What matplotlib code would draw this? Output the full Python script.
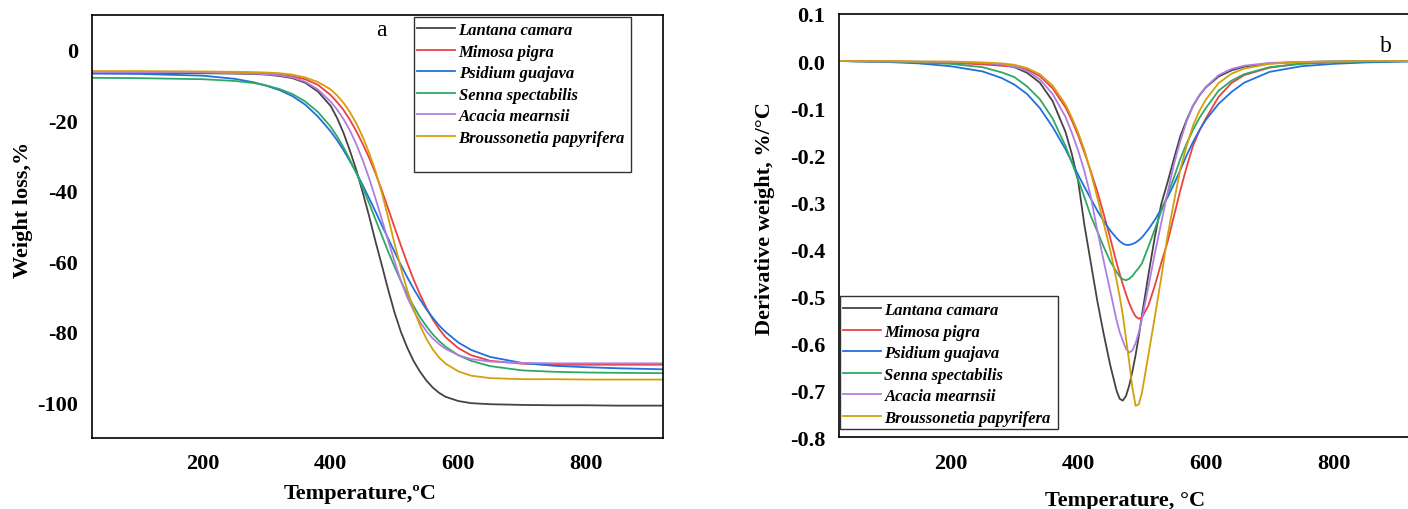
import matplotlib
matplotlib.use('Agg')
import matplotlib.pyplot as plt
from matplotlib.patches import Rectangle
from matplotlib.ticker import FormatStrFormatter

plt.rcParams['font.family'] = ['Liberation Serif', 'DejaVu Serif']
plt.rcParams['axes.unicode_minus'] = False

# species and line colours
species = ['Lantana camara', 'Mimosa pigra', 'Psidium guajava',
           'Senna spectabilis', 'Acacia mearnsii', 'Broussonetia papyrifera']
colors = ['#444444', '#EE4040', '#2070DD', '#2FA865', '#B07EE0', '#D4A00A']

# (a) TGA, weight loss in %
temp_tga = [26, 100, 200, 250, 280, 300, 320, 340, 360, 380, 400, 410, 420, 430, 440, 450, 460, 470,
            480, 490, 500, 510, 520, 530, 540, 550, 560, 570, 580, 600, 620, 650, 700, 750, 800, 850, 921]
lantana_tga = [-6.5, -6.5, -6.6, -6.7, -6.8, -7.0, -7.4, -8.0, -9.3, -11.8, -15.9, -19.3, -23.5, -28.5,
               -34.0, -40.3, -47.0, -54.2, -61.0, -68.0, -74.5, -80.0, -84.5, -88.3, -91.3, -93.8, -95.8,
               -97.3, -98.4, -99.6, -100.2, -100.5, -100.7, -100.8, -100.8, -100.9, -100.9]
mimosa_tga = [-6.2, -6.2, -6.3, -6.4, -6.5, -6.7, -7.0, -7.5, -8.3, -9.9, -12.8, -14.8, -17.0, -19.8,
              -23.0, -26.6, -30.5, -34.9, -39.8, -45.0, -50.3, -55.5, -60.5, -65.2, -69.4, -73.2, -76.5,
              -79.2, -81.5, -84.6, -86.6, -88.2, -89.0, -89.3, -89.3, -89.3, -89.3]
psidium_tga = [-6.7, -6.8, -7.3, -8.2, -9.2, -10.2, -11.4, -13.1, -15.5, -18.9, -23.1, -25.6, -28.4, -31.5,
               -34.8, -38.3, -42.0, -45.8, -49.7, -53.5, -57.3, -61.0, -64.5, -67.8, -70.8, -73.6, -76.0,
               -78.2, -80.0, -83.0, -85.1, -87.1, -88.8, -89.6, -90.0, -90.3, -90.6]
senna_tga = [-7.9, -8.0, -8.3, -8.8, -9.4, -10.1, -11.1, -12.5, -14.6, -17.6, -21.8, -24.5, -27.6, -31.1,
             -34.9, -39.0, -43.4, -48.0, -52.6, -57.2, -61.5, -65.6, -69.3, -72.7, -75.8, -78.4, -80.7,
             -82.6, -84.2, -86.6, -88.2, -89.7, -90.9, -91.3, -91.5, -91.6, -91.7]
acacia_tga = [-6.3, -6.3, -6.4, -6.6, -6.7, -6.9, -7.2, -7.8, -9.0, -11.2, -14.7, -16.9, -19.6, -22.8,
              -26.7, -31.2, -36.3, -42.0, -48.0, -54.1, -60.0, -65.5, -70.2, -74.0, -77.2, -79.8, -81.9,
              -83.5, -84.8, -86.6, -87.7, -88.4, -88.8, -88.9, -88.9, -88.9, -88.9]
brouss_tga = [-6.0, -6.0, -6.1, -6.2, -6.3, -6.4, -6.6, -7.0, -7.8, -9.1, -11.2, -12.9, -15.0, -17.6,
              -20.8, -24.6, -29.1, -34.3, -40.5, -47.5, -55.0, -62.0, -68.2, -73.6, -78.2, -82.0, -85.0,
              -87.3, -89.0, -91.2, -92.4, -93.1, -93.4, -93.4, -93.5, -93.5, -93.5]

# (b) DTG, derivative weight in %/°C
temp_dtg = [26, 100, 150, 200, 250, 280, 300, 320, 340, 360, 380, 390, 400, 410, 420, 430, 440, 450,
            460, 465, 470, 475, 480, 485, 490, 495, 500, 510, 520, 530, 540, 550, 560, 570, 580, 590,
            600, 620, 640, 660, 700, 750, 800, 850, 921]
lantana_dtg = [0, -0.001, -0.002, -0.003, -0.005, -0.008, -0.013, -0.025, -0.046, -0.085, -0.15, -0.197,
               -0.255, -0.35, -0.43, -0.51, -0.58, -0.645,
               -0.70, -0.718, -0.722, -0.712, -0.69, -0.66, -0.625, -0.585, -0.54, -0.455, -0.375, -0.305,
               -0.258, -0.208, -0.16, -0.125, -0.095, -0.073,
               -0.056, -0.033, -0.02, -0.012, -0.005, -0.002, -0.001, 0, 0]
mimosa_dtg = [0, -0.001, -0.002, -0.004, -0.007, -0.01, -0.012, -0.018, -0.032, -0.058, -0.098, -0.126,
              -0.158, -0.195, -0.235, -0.277, -0.325, -0.375,
              -0.428, -0.452, -0.475, -0.496, -0.515, -0.531, -0.543, -0.548, -0.545, -0.52, -0.478, -0.43,
              -0.385, -0.33, -0.275, -0.225, -0.18, -0.148,
              -0.122, -0.076, -0.047, -0.03, -0.014, -0.005, -0.002, -0.001, 0]
psidium_dtg = [0, -0.002, -0.005, -0.011, -0.022, -0.036, -0.05, -0.07, -0.1, -0.14, -0.187, -0.214,
               -0.242, -0.268, -0.293, -0.318, -0.34, -0.36,
               -0.376, -0.383, -0.388, -0.391, -0.391, -0.389, -0.386, -0.381, -0.375, -0.358, -0.338, -0.315,
               -0.29, -0.262, -0.232, -0.2, -0.172, -0.147,
               -0.125, -0.091, -0.066, -0.046, -0.023, -0.011, -0.006, -0.003, -0.001]
senna_dtg = [0, -0.001, -0.003, -0.006, -0.013, -0.024, -0.034, -0.054, -0.081, -0.122, -0.18, -0.215,
             -0.252, -0.29, -0.33, -0.362, -0.395, -0.425,
             -0.448, -0.458, -0.464, -0.466, -0.463, -0.457, -0.448, -0.44, -0.43, -0.395, -0.358, -0.32,
             -0.284, -0.248, -0.208, -0.175, -0.146, -0.121,
             -0.1, -0.063, -0.042, -0.028, -0.013, -0.006, -0.003, -0.001, 0]
acacia_dtg = [0, -0.001, -0.001, -0.002, -0.004, -0.007, -0.012, -0.021, -0.039, -0.07, -0.118, -0.152,
              -0.19, -0.235, -0.29, -0.36, -0.425, -0.487,
              -0.55, -0.576, -0.595, -0.612, -0.62, -0.615, -0.6, -0.577, -0.548, -0.48, -0.41, -0.345,
              -0.28, -0.22, -0.17, -0.128, -0.095, -0.072,
              -0.055, -0.03, -0.017, -0.01, -0.004, -0.002, -0.001, 0, 0]
brouss_dtg = [0, 0, -0.001, -0.001, -0.003, -0.005, -0.008, -0.015, -0.028, -0.052, -0.092, -0.12,
              -0.152, -0.19, -0.238, -0.29, -0.345, -0.4,
              -0.465, -0.5, -0.54, -0.59, -0.64, -0.695, -0.733, -0.73, -0.705, -0.625, -0.545, -0.462,
              -0.372, -0.3, -0.23, -0.18, -0.137, -0.106,
              -0.082, -0.047, -0.027, -0.016, -0.006, -0.002, -0.001, 0, 0]

tga_series = [lantana_tga, mimosa_tga, psidium_tga, senna_tga, acacia_tga, brouss_tga]
dtg_series = [lantana_dtg, mimosa_dtg, psidium_dtg, senna_dtg, acacia_dtg, brouss_dtg]

tick_font = {'family': 'Liberation Serif', 'weight': 'bold', 'size': 16}
label_font = {'family': 'Liberation Serif', 'weight': 'bold', 'size': 16}
legend_font = {'family': 'Liberation Serif', 'weight': 'bold', 'style': 'italic', 'size': 12}


def style_axes(ax):
    for s in ax.spines.values():
        s.set_linewidth(1.2)
        s.set_color('black')
    ax.tick_params(length=0)
    ax.tick_params(axis='x', pad=11)
    ax.tick_params(axis='y', pad=10)
    for lab in ax.get_xticklabels() + ax.get_yticklabels():
        lab.set_fontproperties(tick_font)


def boxed_legend(ax, lines, anchor, box):
    leg = ax.legend(lines, species, loc='upper left', bbox_to_anchor=anchor,
                    frameon=False, prop=legend_font, handlelength=2.3,
                    handletextpad=0.2, labelspacing=0.33, borderpad=0,
                    borderaxespad=0)
    x0, y0, x1, y1 = box
    ax.add_patch(Rectangle((x0, y0), x1 - x0, y1 - y0, transform=ax.transAxes,
                           fill=False, edgecolor='#333333', linewidth=1.0, zorder=5))
    return leg


fig = plt.figure(figsize=(14.08, 5.10), dpi=100)

# ---- panel a : TGA
ax1 = fig.add_axes([0.0653, 0.1398, 0.4058, 0.8294])
lines1 = []
for ys, c in zip(tga_series, colors):
    ln, = ax1.plot(temp_tga, ys, color=c, linewidth=1.3)
    lines1.append(ln)
ax1.set_xlim(26, 921)
ax1.set_ylim(-110, 10)
ax1.set_xticks([200, 400, 600, 800])
ax1.set_yticks([-100, -80, -60, -40, -20, 0])
style_axes(ax1)
ax1.set_xlabel('Temperature,ºC', fontdict=label_font)
ax1.set_ylabel('Weight loss,%', fontdict=label_font)
ax1.xaxis.set_label_coords(0.469, -0.107)
ax1.yaxis.set_label_coords(-0.104, 0.54)
ax1.text(0.506, 0.964, 'a', transform=ax1.transAxes, fontsize=17,
         ha='center', va='center')
boxed_legend(ax1, lines1, (0.5687, 0.982), (0.5644, 0.629, 0.944, 0.9939))

# ---- panel b : DTG
ax2 = fig.add_axes([0.5961, 0.1406, 0.4059, 0.8300])
lines2 = []
for ys, c in zip(dtg_series, colors):
    ln, = ax2.plot(temp_dtg, ys, color=c, linewidth=1.3)
    lines2.append(ln)
ax2.set_xlim(26, 921)
ax2.set_ylim(-0.8, 0.1)
ax2.set_xticks([200, 400, 600, 800])
ax2.set_yticks([-0.8, -0.7, -0.6, -0.5, -0.4, -0.3, -0.2, -0.1, 0.0, 0.1])
ax2.yaxis.set_major_formatter(FormatStrFormatter('%.1f'))
style_axes(ax2)
ax2.set_xlabel('Temperature, °C', fontdict=label_font)
ax2.set_ylabel('Derivative weight, %/°C', fontdict=label_font)
ax2.xaxis.set_label_coords(0.5, -0.1245)
ax2.yaxis.set_label_coords(-0.112, 0.52)
ax2.text(0.957, 0.925, 'b', transform=ax2.transAxes, fontsize=17,
         ha='center', va='center')
boxed_legend(ax2, lines2, (0.006, 0.319), (0.001, 0.0196, 0.382, 0.333))

fig.savefig('out.png', dpi=100)
